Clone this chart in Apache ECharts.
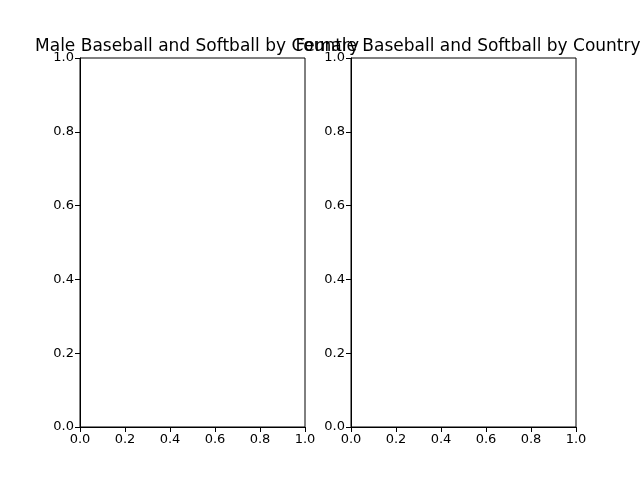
<!DOCTYPE html>
<html>
<head>
<meta charset="utf-8" />
<title>Baseball and Softball by Country</title>
<script src="https://cdn.jsdelivr.net/npm/echarts@6/dist/echarts.min.js"></script>
<style>
  * { margin: 0; padding: 0; }
  #chart { width: 640px; height: 480px; background: #fff; }
</style>
</head>
<body>
<div id="chart"></div>
<script>
var titles = ["Male Baseball and Softball by Country", "Female Baseball and Softball by Country"];
var maleData = [];
var femaleData = [];
var axisMin = 0, axisMax = 1, axisStep = 0.2;

var chart = echarts.init(document.getElementById("chart"));
var font = "DejaVu Sans";

function axis(idx) {
  return {
    type: "value", gridIndex: idx, min: axisMin, max: axisMax, interval: axisStep,
    axisLine: { show: true, onZero: false, lineStyle: { color: "#000", width: 1 } },
    axisTick: { show: true, inside: false, length: 5, lineStyle: { color: "#000" } },
    axisLabel: { color: "#000", fontFamily: font, fontSize: 13, margin: 6,
      formatter: function (v) { return v.toFixed(1); } },
    splitLine: { show: false }
  };
}

chart.setOption({
  animation: false,
  title: [
    { text: titles[0], left: 192, top: 33, textAlign: "center",
      textStyle: { fontFamily: font, fontSize: 17, fontWeight: "normal", color: "#000" } },
    { text: titles[1], left: 463, top: 33, textAlign: "center",
      textStyle: { fontFamily: font, fontSize: 17, fontWeight: "normal", color: "#000" } }
  ],
  grid: [
    { left: 80, right: 335, top: 58, bottom: 53, show: true, borderColor: "#000", borderWidth: 1 },
    { left: 351, right: 64, top: 58, bottom: 53, show: true, borderColor: "#000", borderWidth: 1 }
  ],
  xAxis: [axis(0), axis(1)],
  yAxis: [axis(0), axis(1)],
  series: [
    { type: "line", xAxisIndex: 0, yAxisIndex: 0, data: maleData },
    { type: "line", xAxisIndex: 1, yAxisIndex: 1, data: femaleData }
  ]
});
</script>
</body>
</html>
